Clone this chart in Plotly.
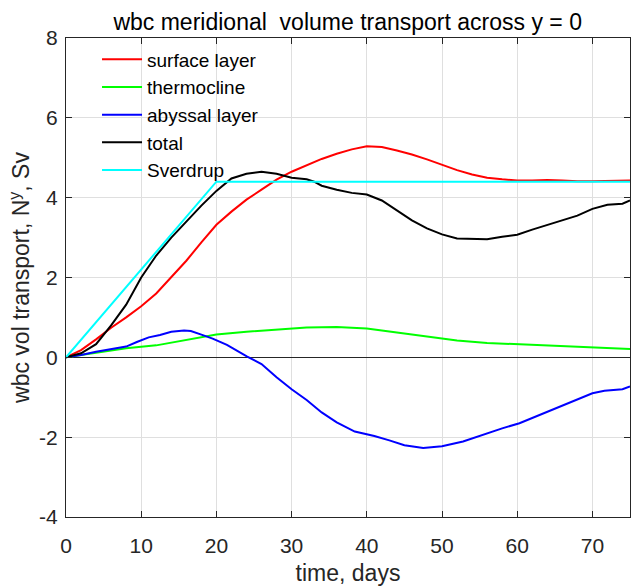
import plotly.graph_objects as go

# ---- data ----
surface_days = [0, 2, 4, 6, 8, 10, 12, 14, 16, 18, 20, 22, 24, 26, 28, 30, 32, 34, 36, 38,
                40, 42, 44, 46, 48, 50, 52, 54, 56, 58, 60, 62, 64, 66, 68, 70, 72, 75]
surface_vals = [0, 0.18, 0.45, 0.74, 1.0, 1.28, 1.6, 2.0, 2.42, 2.88, 3.32, 3.65, 3.95, 4.2,
                4.45, 4.65, 4.82, 4.97, 5.1, 5.21, 5.29, 5.27, 5.18, 5.08, 4.96, 4.82, 4.69,
                4.58, 4.5, 4.46, 4.43, 4.43, 4.44, 4.43, 4.41, 4.41, 4.42, 4.43]

thermo_days = [0, 4, 8, 12, 16, 20, 24, 28, 32, 36, 40, 44, 48, 52, 56, 60, 64, 68, 72, 75]
thermo_vals = [0, 0.12, 0.23, 0.3, 0.43, 0.57, 0.64, 0.7, 0.75, 0.76, 0.72, 0.62, 0.52,
               0.42, 0.36, 0.33, 0.3, 0.26, 0.24, 0.21]

abyssal_days = [0, 2, 4, 6, 8, 9.5, 11, 12.5, 14, 15.7, 16.6, 18, 19.5, 21.4, 23, 24.1, 26,
                28, 30, 32, 34, 36, 38.4, 41, 43, 45, 47.5, 50, 52.8, 56, 58, 60.3, 63.5,
                67.3, 70, 71.6, 74, 75]
abyssal_vals = [0, 0.06, 0.14, 0.2, 0.27, 0.39, 0.5, 0.56, 0.64, 0.67, 0.66, 0.57, 0.47,
                0.31, 0.13, 0.02, -0.17, -0.5, -0.8, -1.07, -1.38, -1.63, -1.86, -1.97,
                -2.08, -2.2, -2.27, -2.23, -2.11, -1.9, -1.78, -1.65, -1.4, -1.11, -0.9,
                -0.84, -0.8, -0.73]

total_days = [0, 2, 4, 6, 8, 10, 12, 14, 16, 18, 20, 22, 24, 26, 28, 30, 32, 33, 34, 36, 38,
              40, 42, 44, 46, 48, 50, 52, 54, 56, 58, 60, 62, 64, 66, 68, 70, 72, 74, 75]
total_vals = [0, 0.1, 0.33, 0.8, 1.32, 2.0, 2.55, 3.0, 3.4, 3.8, 4.17, 4.48, 4.6, 4.65, 4.6,
              4.5, 4.46, 4.4, 4.3, 4.2, 4.12, 4.08, 3.93, 3.68, 3.43, 3.23, 3.08, 2.98,
              2.97, 2.96, 3.02, 3.07, 3.2, 3.32, 3.43, 3.55, 3.72, 3.82, 3.85, 3.93]

sverdrup_days = [0, 20, 75]
sverdrup_vals = [0, 4.4, 4.4]

series_names = ["surface layer", "thermocline", "abyssal layer", "total", "Sverdrup"]
series_colors = ["#ff0000", "#00ff00", "#0000ff", "#000000", "#00ffff"]

x_ticks = [0, 10, 20, 30, 40, 50, 60, 70]
x_tick_labels = ["0", "10", "20", "30", "40", "50", "60", "70"]
y_ticks = [-4, -2, 0, 2, 4, 6, 8]
y_tick_labels = ["-4", "-2", "0", "2", "4", "6", "8"]

FONT = "Liberation Sans, Arial, Helvetica, sans-serif"
TXT = "#262626"

fig = go.Figure()
all_x = [surface_days, thermo_days, abyssal_days, total_days, sverdrup_days]
all_y = [surface_vals, thermo_vals, abyssal_vals, total_vals, sverdrup_vals]
for i, (xs, ys) in enumerate(zip(all_x, all_y)):
    fig.add_trace(go.Scatter(x=xs, y=ys, mode="lines", name=series_names[i],
                             legendgroup=series_names[i],
                             line=dict(color=series_colors[i], width=2)))

axis_common = dict(showline=True, linecolor=TXT, linewidth=1.2, mirror="ticks",
                   ticks="inside", ticklen=6, tickcolor=TXT, tickwidth=1.2,
                   showgrid=True, gridcolor="#dfdfdf", gridwidth=1.2, automargin=False,
                   tickfont=dict(family=FONT, size=21, color=TXT))

fig.update_layout(
    width=631, height=588, autosize=False,
    margin=dict(l=66, r=1, t=38, b=71),
    paper_bgcolor="white", plot_bgcolor="white",
    title=dict(text="wbc meridional  volume transport across y = 0",
               font=dict(family=FONT, size=23, color="#000000"),
               x=0.551, xanchor="center", y=0.963, yanchor="middle"),
    xaxis=dict(range=[0, 75], tickvals=x_ticks, ticktext=x_tick_labels, zeroline=False,
               ticklabelstandoff=10,
               title=dict(text="time, days", font=dict(family=FONT, size=23, color=TXT),
                          standoff=8),
               **axis_common),
    yaxis=dict(range=[-4, 8], tickvals=y_ticks, ticktext=y_tick_labels, zeroline=True,
               zerolinecolor=TXT, zerolinewidth=1, ticklabelstandoff=3,
               title=dict(text="wbc vol transport, N<sup>y</sup>, Sv",
                          font=dict(family=FONT, size=23, color=TXT), standoff=2),
               **axis_common),
    legend=dict(x=0.055, y=0.995, xanchor="left", yanchor="top",
                bgcolor="rgba(0,0,0,0)", borderwidth=0,
                font=dict(family=FONT, size=19, color="#000000"),
                traceorder="grouped", tracegroupgap=0, itemwidth=40),
    showlegend=True,
)

post = ("document.documentElement.style.margin='0';"
        "document.body.style.margin='0';document.body.style.padding='0';"
        "document.body.style.overflow='hidden';"
        "var gd=document.getElementById('{plot_id}');"
        "gd.style.width='631px';gd.style.height='588px';"
        "Plotly.relayout(gd,{width:631,height:588});")

fig.write_html("out.html", config={"responsive": False, "displayModeBar": False},
               post_script=post)
